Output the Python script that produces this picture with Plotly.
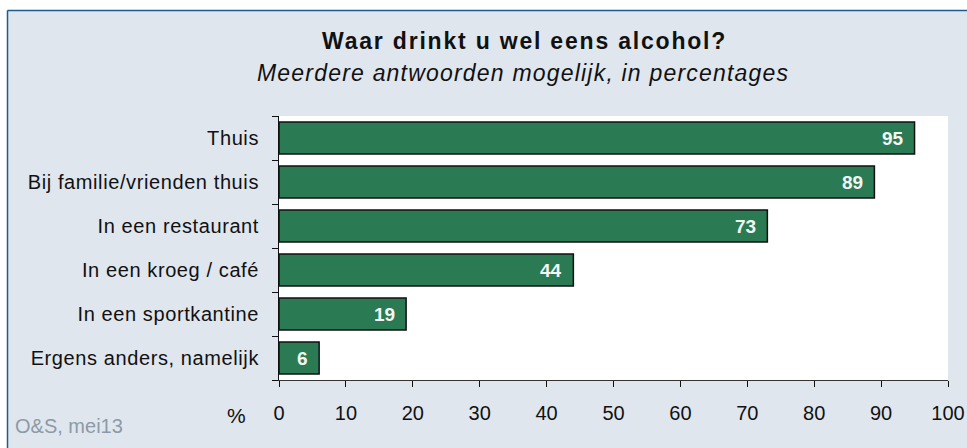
import plotly.graph_objects as go

categories = ["Thuis", "Bij familie/vrienden thuis", "In een restaurant",
              "In een kroeg / café", "In een sportkantine", "Ergens anders, namelijk"]
values = [95, 89, 73, 44, 19, 6]
x_ticks = [0, 10, 20, 30, 40, 50, 60, 70, 80, 90, 100]

title = "Waar drinkt u wel eens alcohol?"
subtitle = "Meerdere antwoorden mogelijk, in percentages"
source = "O&S, mei13"

W, H = 967, 448
L, R, T, B = 279, 948, 116, 380  # plot area in pixels

def px(xp):
    return (xp - L) / (R - L)

def py(yp):
    return (B - yp) / (B - T)

def spaced(s, ls):
    return f'<span style="letter-spacing:{ls}px">{s}</span>'

FONT = "Liberation Sans, Arial, sans-serif"
BG = "#dfe6ee"
GREEN = "#2a7b53"
FRAME = "#1f5b8f"

fig = go.Figure(go.Bar(
    x=values, y=categories, orientation="h",
    marker=dict(color=GREEN, line=dict(color="#111111", width=1.5)),
    hoverinfo="skip",
))

annotations = []
for v, c in zip(values, categories):
    annotations.append(dict(x=v, y=c, xref="x", yref="y", text=f"<b>{v}</b>",
                            showarrow=False, xanchor="right", yanchor="middle",
                            xshift=-9, font=dict(family=FONT, size=19, color="#f4f4f4")))

annotations += [
    dict(x=px(524), y=py(41), xref="paper", yref="paper", text=spaced(f"<b>{title}</b>", 1.8),
         showarrow=False, xanchor="center", yanchor="middle",
         font=dict(family=FONT, size=23, color="#111111")),
    dict(x=px(523), y=py(73), xref="paper", yref="paper", text=spaced(f"<i>{subtitle}</i>", 1.2),
         showarrow=False, xanchor="center", yanchor="middle",
         font=dict(family=FONT, size=23, color="#111111")),
    dict(x=px(13), y=py(426), xref="paper", yref="paper", text=source,
         showarrow=False, xanchor="left", yanchor="middle",
         font=dict(family=FONT, size=20, color="#8d9aa6")),
    dict(x=px(236), y=py(416), xref="paper", yref="paper", text="%",
         showarrow=False, xanchor="center", yanchor="middle",
         font=dict(family=FONT, size=21, color="#111111")),
]

FX, FY = 7.5, 10.5  # frame corner
shapes = [
    dict(type="rect", xref="paper", yref="paper", x0=px(-20), x1=px(1000),
         y0=py(FY), y1=py(-20), fillcolor="white", line=dict(width=0), layer="below"),
    dict(type="rect", xref="paper", yref="paper", x0=px(-20), x1=px(FX),
         y0=py(480), y1=py(-20), fillcolor="white", line=dict(width=0), layer="below"),
    dict(type="line", xref="paper", yref="paper", x0=px(FX), x1=px(FX), y0=py(FY), y1=py(480),
         line=dict(color=FRAME, width=1.5), layer="below"),
    dict(type="line", xref="paper", yref="paper", x0=px(FX), x1=px(1000), y0=py(FY), y1=py(FY),
         line=dict(color=FRAME, width=1.5), layer="below"),
]

fig.update_layout(
    width=W, height=H,
    margin=dict(l=L, r=W - R, t=T, b=H - B, pad=0),
    paper_bgcolor=BG, plot_bgcolor="white",
    showlegend=False, bargap=0.27,
    font=dict(family=FONT, size=20, color="#111111"),
    annotations=annotations, shapes=shapes,
    xaxis=dict(range=[0, 100], tickvals=x_ticks, ticks="outside", ticklen=6,
               tickcolor="#111111", showline=True, linecolor="#333333", linewidth=1,
               showgrid=False, zeroline=False, ticklabelstandoff=9, automargin=False,
               ticklabeloverflow="allow",
               tickfont=dict(family=FONT, size=20, color="#111111"), fixedrange=True),
    yaxis=dict(categoryorder="array", categoryarray=categories, autorange="reversed",
               tickvals=categories, ticktext=[spaced(c, 0.6) for c in categories],
               ticks="outside", ticklen=6, tickson="boundaries", tickcolor="#111111",
               showline=True, linecolor="#111111", linewidth=1, showgrid=False,
               zeroline=False, ticklabelstandoff=15, automargin=False,
               tickfont=dict(family=FONT, size=20, color="#111111"), fixedrange=True),
)

fig.write_html("out.html", config={"displayModeBar": False},
               post_script="document.body.style.margin='0';document.body.style.overflow='hidden';")
